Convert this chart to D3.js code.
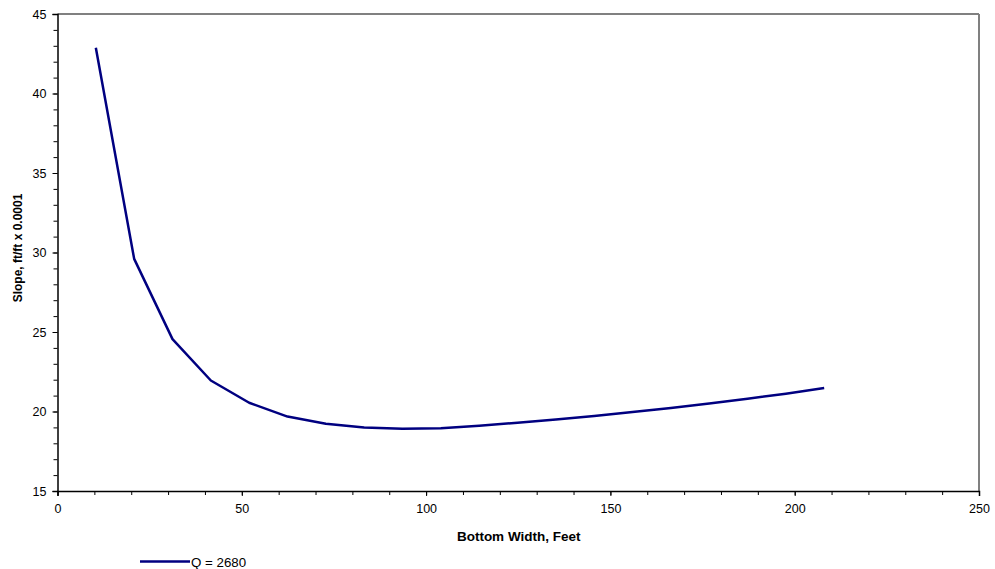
<!DOCTYPE html>
<html><head><meta charset="utf-8">
<script src="https://cdn.jsdelivr.net/npm/d3@7"></script>
<style>body{margin:0;background:#fff}text{font-family:"Liberation Sans",Arial,sans-serif}</style>
</head><body>
<svg id="c" width="995" height="569"></svg>
<script>
const widths = [10.4,20.8,31.2,41.6,52.0,62.4,72.8,83.2,93.6,104.0,114.4,124.8,135.2,145.6,156.0,166.4,176.8,187.2,197.6,208.0];
const slopes = [42.88,29.6,24.55,21.95,20.55,19.68,19.23,19.0,18.92,18.95,19.1,19.3,19.5,19.72,19.97,20.22,20.5,20.8,21.12,21.48];
const xTicks = [0,50,100,150,200,250];
const yTicks = [15,20,25,30,35,40,45];
const seriesName = "Q = 2680";

const svg = d3.select("#c");
const L=57.5, R=979, T=14, B=491;
const x = d3.scaleLinear().domain([0,250]).range([L,R]);
const y = d3.scaleLinear().domain([15,45]).range([B,T]);

// border top/right
svg.append("line").attr("x1",L).attr("x2",R).attr("y1",T).attr("y2",T).attr("stroke","#808080").attr("stroke-width",2);
svg.append("line").attr("x1",R).attr("x2",R).attr("y1",T).attr("y2",B).attr("stroke","#808080").attr("stroke-width",2);

// minor ticks
const xm = d3.range(0,251,10), ym = d3.range(15,46,1);
svg.append("g").attr("transform",`translate(0,${B})`).call(d3.axisBottom(x).tickValues(xm).tickSize(4).tickFormat("")).call(g=>g.select(".domain").remove());
svg.append("g").attr("transform",`translate(${L},0)`).call(d3.axisLeft(y).tickValues(ym).tickSize(4).tickFormat("")).call(g=>g.select(".domain").remove());

const gx = svg.append("g").attr("transform",`translate(0,${B})`).call(d3.axisBottom(x).tickValues(xTicks).tickSizeOuter(0).tickSize(5).tickPadding(9));
const gy = svg.append("g").attr("transform",`translate(${L},0)`).call(d3.axisLeft(y).tickValues(yTicks).tickSizeOuter(0).tickSize(5).tickPadding(6));
[gx,gy].forEach(g=>{g.selectAll("text").attr("font-size",12.5).attr("fill","#000").style("font-family","Liberation Sans, Arial, sans-serif");
 g.select(".domain").attr("stroke","#000").attr("stroke-width",1.5);});
gx.selectAll("text").attr("dy","0.62em");

svg.append("path").datum(widths.map((w,i)=>[w,slopes[i]]))
  .attr("d",d3.line().x(d=>x(d[0])).y(d=>y(d[1])))
  .attr("fill","none").attr("stroke","#000080").attr("stroke-width",2.5).attr("stroke-linejoin","round");

svg.append("text").attr("x",518.7).attr("y",540.5).attr("text-anchor","middle").attr("font-size",13.5).attr("font-weight","bold").text("Bottom Width, Feet");
svg.append("text").attr("transform",`translate(21.5,248) rotate(-90)`).attr("text-anchor","middle").attr("font-size",12).attr("font-weight","bold").text("Slope, ft/ft x 0.0001");

svg.append("line").attr("x1",140).attr("x2",190).attr("y1",561.5).attr("y2",561.5).attr("stroke","#000080").attr("stroke-width",2.5);
svg.append("text").attr("x",191).attr("y",566.5).attr("font-size",13.3).text(seriesName);
</script>
</body></html>
